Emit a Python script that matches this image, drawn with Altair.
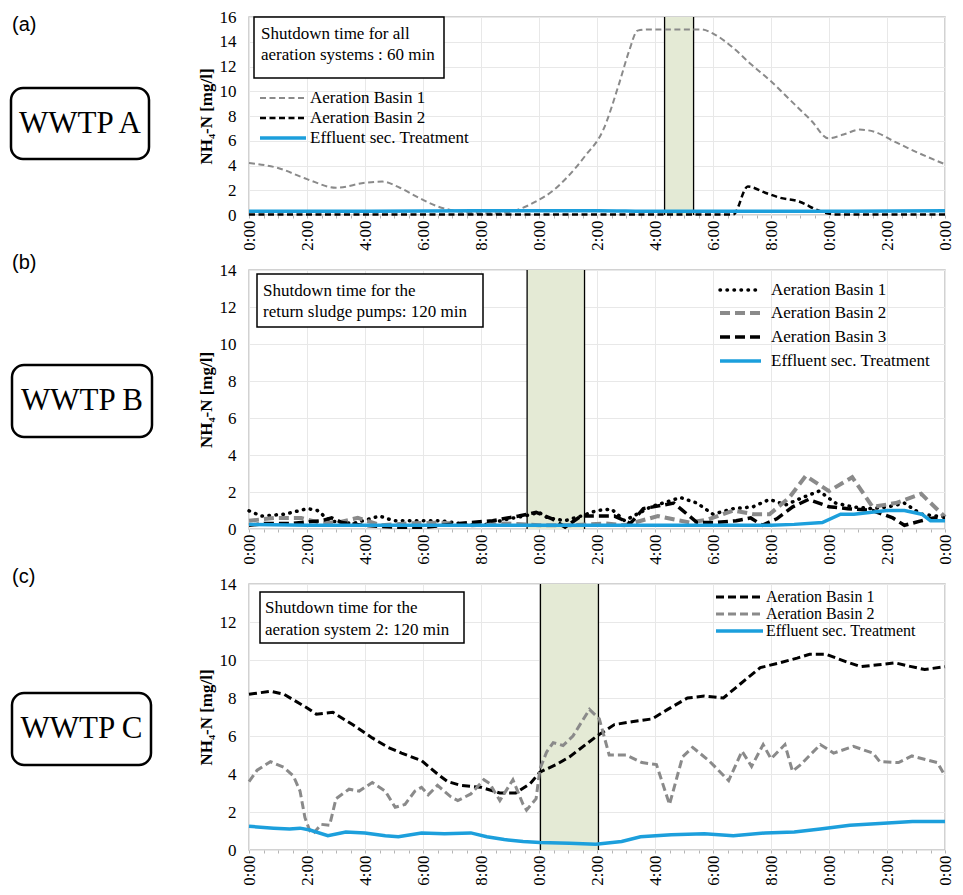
import altair as alt
import pandas as pd

SERIF = "Liberation Serif"
SANS = "Liberation Sans"
BLUE = "#1c9fdc"
GRAY = "#8a8a8a"
SHADE = "#e4ead5"
GRIDC = "#e8e8e8"

# ---------------- Panel A (WWTP A) ----------------
a_b1_hours = [0, 1, 2, 3, 4, 4.6, 5.2, 5.85, 6.5, 7.2, 7.9, 8.6, 9.35, 9.9, 10.5, 10.95,
              11.6, 12.2, 12.76, 13.1, 13.4, 13.8, 14.5, 15.3, 15.6, 16.05, 16.7, 17.3,
              18.0, 18.7, 19.4, 19.97, 20.5, 21.05, 21.6, 22.2, 23.1, 24]
a_b1_vals = [4.2, 3.8, 2.9, 2.2, 2.6, 2.7, 2.2, 1.4, 0.7, 0.3, 0.15, 0.15, 0.5, 1.1, 2.0, 3.0,
             4.8, 6.8, 10.6, 13.2, 14.9, 15.0, 15.0, 15.0, 15.0, 14.6, 13.5, 12.2,
             10.8, 9.2, 7.6, 6.2, 6.5, 6.9, 6.7, 6.0, 5.0, 4.1]
a_b2_hours = [0, 4, 8, 12, 16, 16.7, 17.2, 17.8, 18.3, 18.95, 19.7, 20.2, 22, 24]
a_b2_vals = [0.05, 0.05, 0.05, 0.05, 0.05, 0.05, 2.3, 1.8, 1.4, 1.1, 0.3, 0.05, 0.05, 0.05]
a_eff_hours = [0, 4, 8, 12, 14, 16, 20, 24]
a_eff_vals = [0.3, 0.3, 0.35, 0.35, 0.3, 0.3, 0.3, 0.35]
a_shutdown = [14.33, 15.33]

# ---------------- Panel B (WWTP B) ----------------
b_b1_hours = [0, 0.43, 1.23, 2.02, 2.36, 2.8, 3.6, 4.5, 4.98, 6.1, 6.6, 7.25, 8.05, 8.95,
              9.5, 10.0, 10.3, 10.9, 11.45, 12.0, 12.5, 12.95, 13.86, 14.88, 15.45, 16.0,
              16.7, 17.38, 17.95, 18.5, 19.09, 19.66, 20.23, 20.8, 21.48, 22.05, 22.6,
              23.18, 24]
b_b1_vals = [0.98, 0.7, 0.8, 1.1, 1.0, 0.43, 0.3, 0.7, 0.45, 0.45, 0.45, 0.3, 0.2, 0.55,
             0.7, 0.9, 0.6, 0.45, 0.7, 1.0, 1.08, 0.45, 1.2, 1.7, 1.4, 0.8,
             1.1, 1.2, 1.6, 1.3, 1.7, 2.05, 1.4, 1.2, 1.1, 1.2, 1.4,
             0.8, 0.65]
b_b2_hours = [0, 0.9, 1.8, 2.4, 3.07, 3.75, 4.55, 5.46, 6.6, 7.7, 8.85, 10.0, 11.1, 12.3,
              12.95, 14.1, 15.2, 15.8, 16.7, 17.4, 17.95, 18.63, 19.2, 20.0, 20.8, 21.5,
              22.3, 23.18, 24]
b_b2_vals = [0.45, 0.6, 0.6, 0.35, 0.35, 0.6, 0.2, 0.3, 0.35, 0.2, 0.3, 0.2, 0.2, 0.3,
             0.2, 0.7, 0.35, 0.5, 1.0, 0.8, 0.8, 1.7, 2.87, 2.05, 2.8, 1.2,
             1.4, 1.9, 0.65]
b_b3_hours = [0, 0.55, 1.45, 2.5, 2.85, 3.2, 3.9, 5.0, 6.1, 7.25, 8.4, 9.3, 9.9, 10.45,
              10.9, 11.45, 12.0, 12.6, 13.15, 13.6, 14.65, 15.45, 16.1, 16.8, 17.3, 17.7,
              18.2, 18.75, 19.3, 20.0, 20.65, 21.5, 22.2, 22.6, 23.2, 23.6, 24]
b_b3_vals = [0.2, 0.3, 0.3, 0.45, 0.6, 0.35, 0.2, 0.1, 0.1, 0.3, 0.45, 0.7, 0.9, 0.55,
             0.1, 0.7, 0.7, 0.7, 0.3, 1.1, 1.4, 0.35, 0.35, 0.45, 0.6, 0.2,
             0.55, 1.2, 1.6, 1.2, 1.1, 1.0, 0.6, 0.2, 0.45, 0.6, 0.6]
b_eff_hours = [0, 2, 6, 10, 14, 18, 18.8, 19.77, 20.4, 20.86, 22.0, 22.6, 23.2, 23.5, 24]
b_eff_vals = [0.25, 0.2, 0.2, 0.2, 0.2, 0.2, 0.25, 0.35, 0.8, 0.8, 1.0, 1.0, 0.8, 0.45, 0.45]
b_shutdown = [9.59, 11.57]

# ---------------- Panel C (WWTP C) ----------------
c_b1_hours = [0, 0.74, 1.2, 1.98, 2.32, 2.89, 3.57, 4.25, 4.8, 5.26, 5.95, 6.5, 6.85, 7.3,
              8.0, 8.65, 9.2, 9.7, 10.03, 10.6, 11.05, 12.0, 12.6, 13.2, 13.9, 14.44,
              15.12, 15.7, 16.36, 16.95, 17.63, 18.3, 18.9, 19.33, 19.9, 20.6, 21.1, 21.7,
              22.28, 22.84, 23.3, 24]
c_b1_vals = [8.2, 8.35, 8.2, 7.5, 7.15, 7.25, 6.6, 5.9, 5.4, 5.1, 4.7, 4.0, 3.6, 3.4,
             3.3, 3.0, 3.0, 3.5, 4.1, 4.5, 4.9, 6.0, 6.6, 6.75, 6.9, 7.4,
             8.0, 8.1, 8.0, 8.75, 9.6, 9.85, 10.1, 10.3, 10.3, 9.9, 9.65, 9.75,
             9.85, 9.65, 9.5, 9.65]
c_b2_hours = [0, 0.28, 0.74, 1.2, 1.53, 1.76, 1.93, 2.1, 2.21, 2.49, 2.78, 3.0, 3.45, 3.8,
              4.25, 4.7, 5.04, 5.38, 5.72, 5.95, 6.18, 6.5, 6.96, 7.2, 7.65, 8.1, 8.3,
              8.65, 9.1, 9.45, 9.57, 9.9, 10.03, 10.26, 10.49, 10.83, 11.17, 11.74,
              12.08, 12.42, 13.0, 13.55, 14.05, 14.5, 14.95, 15.3, 15.86, 16.54, 17.0,
              17.33, 17.73, 18.0, 18.48, 18.74, 19.03, 19.7, 20.16, 20.84, 21.52, 21.75,
              22.4, 22.86, 23.74, 24]
c_b2_vals = [3.6, 4.2, 4.65, 4.35, 3.9, 3.1, 1.7, 1.0, 0.85, 1.35, 1.3, 2.7, 3.2, 3.1,
             3.55, 3.1, 2.25, 2.4, 3.1, 3.3, 2.9, 3.4, 2.8, 2.6, 2.95, 3.7, 3.5,
             2.6, 3.7, 2.4, 2.1, 2.7, 4.25, 5.15, 5.65, 5.5, 6.0, 7.4,
             6.9, 5.0, 5.0, 4.6, 4.5, 2.4, 4.9, 5.4, 4.7, 3.65, 5.2,
             4.4, 5.55, 4.8, 5.55, 4.15, 4.5, 5.55, 5.1, 5.45, 5.1, 4.65,
             4.6, 4.95, 4.6, 3.9]
c_eff_hours = [0, 0.85, 1.4, 1.76, 2.1, 2.72, 3.34, 4.0, 4.7, 5.15, 5.95, 6.74, 7.65, 8.2,
               8.8, 9.45, 10.03, 11.05, 11.96, 12.85, 13.5, 14.56, 15.7, 16.7, 17.8, 18.8,
               19.7, 20.72, 21.74, 22.88, 24]
c_eff_vals = [1.25, 1.15, 1.1, 1.15, 1.05, 0.75, 0.95, 0.9, 0.75, 0.7, 0.9, 0.85, 0.9, 0.7,
              0.55, 0.45, 0.4, 0.35, 0.3, 0.45, 0.7, 0.8, 0.85, 0.75, 0.9, 0.95,
              1.1, 1.3, 1.4, 1.5, 1.5]
c_shutdown = [10.05, 12.05]

W = 696
ONE = pd.DataFrame({"k": [0]})

x_axis = alt.Axis(
    values=[i / 2 for i in range(49)],
    labelExpr="datum.value % 2 === 0 ? (floor(datum.value % 24) % 10) + ':00' : ''",
    labelAngle=270, labelFont=SERIF, labelFontSize=17, labelColor="black",
    labelOverlap=False, labelFlush=False, labelPadding=2, labelBound=False,
    tickSize=3, tickColor="#b5b5b5", domain=False,
    grid=True, gridColor=GRIDC,
    gridOpacity={"condition": {"test": "datum.value % 2 === 0", "value": 1}, "value": 0},
    title=None,
)


def y_axis(ymax):
    return alt.Axis(
        values=list(range(0, ymax + 1, 2)), labelFont=SERIF, labelFontSize=17,
        labelColor="black", labelPadding=13, ticks=False, domain=False,
        grid=True, gridColor=GRIDC, title="NH₄-N [mg/l]", titleFont=SERIF,
        titleFontSize=17, titleFontWeight="bold", titleColor="black", titlePadding=4,
    )


def xenc(field):
    return alt.X(f"{field}:Q", scale=alt.Scale(domain=[0, 24], nice=False, zero=False),
                 axis=x_axis)


def text_layer(txt, x, y, size=17, font=SERIF, align="left"):
    return alt.Chart(ONE).mark_text(text=txt, font=font, fontSize=size, align=align,
                                    baseline="middle", color="black").encode(
        x=alt.value(x), y=alt.value(y))


def panel(cfg):
    h = cfg["height"]
    ymax = cfg["ymax"]
    yenc = alt.Y("value:Q", scale=alt.Scale(domain=[0, ymax], nice=False), axis=y_axis(ymax))
    layers = []
    sd = pd.DataFrame({"start": [cfg["shutdown"][0]], "end": [cfg["shutdown"][1]]})
    layers.append(alt.Chart(sd).mark_rect(fill=SHADE).encode(
        x=xenc("start"), x2="end:Q", y=alt.value(0), y2=alt.value(h)))
    for f in ("start", "end"):
        layers.append(alt.Chart(sd).mark_rule(color="black", strokeWidth=1.3).encode(
            x=xenc(f), y=alt.value(0), y2=alt.value(h)))
    for s in cfg["series"]:
        df = pd.DataFrame({"hour": s["hours"], "value": s["values"]})
        kw = dict(color=s["color"], strokeWidth=s["width"], interpolate=cfg["interp"])
        if s["dash"]:
            kw["strokeDash"] = s["dash"]
        if s.get("cap"):
            kw["strokeCap"] = s["cap"]
        layers.append(alt.Chart(df).mark_line(**kw).encode(x=xenc("hour"), y=yenc))
    # annotation box
    bx0, bx1, by0, by1 = cfg["box"]
    layers.append(alt.Chart(ONE).mark_rect(fill="white", stroke="black", strokeWidth=1.5).encode(
        x=alt.value(bx0), x2=alt.value(bx1), y=alt.value(by0), y2=alt.value(by1)))
    tx, tys = cfg["box_text_pos"]
    for line, ty in zip(cfg["box_text"], tys):
        layers.append(text_layer(line, tx, ty))
    # legend
    lx0, lx1, ltx, lys = cfg["legend_pos"]
    for s, ly in zip(cfg["series"], lys):
        kw = dict(color=s["color"], strokeWidth=s["width"])
        if s["dash"]:
            kw["strokeDash"] = s["dash"]
        if s.get("cap"):
            kw["strokeCap"] = s["cap"]
        layers.append(alt.Chart(ONE).mark_rule(**kw).encode(
            x=alt.value(lx0), x2=alt.value(lx1), y=alt.value(ly)))
        layers.append(text_layer(s["name"], ltx, ly, size=cfg["legend_font"]))
    # left-hand labels
    tg_x, tg_y = cfg["tag_pos"]
    layers.append(text_layer(cfg["tag"], tg_x, tg_y, size=20, font=SANS))
    px0, px1, py0, py1 = cfg["plant_box"]
    layers.append(alt.Chart(ONE).mark_rect(fill="white", stroke="black", strokeWidth=2.5,
                                           cornerRadius=12).encode(
        x=alt.value(px0), x2=alt.value(px1), y=alt.value(py0), y2=alt.value(py1)))
    layers.append(text_layer(cfg["plant"], (px0 + px1) / 2, (py0 + py1) / 2, size=31,
                             align="center"))
    return alt.layer(*layers).properties(width=W, height=h)


panel_a = panel(dict(
    height=198, ymax=16, interp="monotone", shutdown=a_shutdown,
    series=[
        dict(name="Aeration Basin 1", hours=a_b1_hours, values=a_b1_vals, color=GRAY,
             dash=[6, 3.5], width=2),
        dict(name="Aeration Basin 2", hours=a_b2_hours, values=a_b2_vals, color="black",
             dash=[6, 3.5], width=2.5),
        dict(name="Effluent sec. Treatment", hours=a_eff_hours, values=a_eff_vals,
             color=BLUE, dash=None, width=3.5),
    ],
    box=(5, 195, 0, 61), box_text_pos=(12, [17, 38]),
    box_text=["Shutdown time for all", "aeration systems : 60 min"],
    legend_pos=(11, 57, 61, [81, 101, 121]), legend_font=17,
    tag="(a)", tag_pos=(-237, 8), plant="WWTP A", plant_box=(-238, -100, 71, 142),
))

panel_b = panel(dict(
    height=259, ymax=14, interp="linear", shutdown=b_shutdown,
    series=[
        dict(name="Aeration Basin 1", hours=b_b1_hours, values=b_b1_vals, color="black",
             dash=[0.5, 6.5], width=3.5, cap="round"),
        dict(name="Aeration Basin 2", hours=b_b2_hours, values=b_b2_vals, color=GRAY,
             dash=[10, 5], width=4),
        dict(name="Aeration Basin 3", hours=b_b3_hours, values=b_b3_vals, color="black",
             dash=[10, 5], width=3.5),
        dict(name="Effluent sec. Treatment", hours=b_eff_hours, values=b_eff_vals,
             color=BLUE, dash=None, width=3.5),
    ],
    box=(8, 234, 4, 57), box_text_pos=(14, [21, 42]),
    box_text=["Shutdown time for the", "return sludge pumps: 120 min"],
    legend_pos=(471, 512, 522, [20, 43, 67, 91]), legend_font=17,
    tag="(b)", tag_pos=(-237, -7), plant="WWTP B", plant_box=(-237, -97, 95, 167),
))

panel_c = panel(dict(
    height=266, ymax=14, interp="linear", shutdown=c_shutdown,
    series=[
        dict(name="Aeration Basin 1", hours=c_b1_hours, values=c_b1_vals, color="black",
             dash=[8, 4], width=3),
        dict(name="Aeration Basin 2", hours=c_b2_hours, values=c_b2_vals, color=GRAY,
             dash=[8, 4], width=3),
        dict(name="Effluent sec. Treatment", hours=c_eff_hours, values=c_eff_vals,
             color=BLUE, dash=None, width=3.5),
    ],
    box=(11, 215, 8, 59), box_text_pos=(16, [24, 46]),
    box_text=["Shutdown time for the", "aeration system 2: 120 min"],
    legend_pos=(467, 514, 517, [13, 30, 47]), legend_font=16,
    tag="(c)", tag_pos=(-237, -7), plant="WWTP C", plant_box=(-237, -98, 109, 181),
))

chart = alt.vconcat(panel_a, panel_b, panel_c, spacing=55, bounds="flush").properties(
    padding={"left": 1, "top": -1, "right": 0, "bottom": 0},
    background="white",
).configure_view(stroke="#c3c3c3", strokeWidth=1.5)

chart.save("out.html", embed_options={"renderer": "svg", "actions": False})
